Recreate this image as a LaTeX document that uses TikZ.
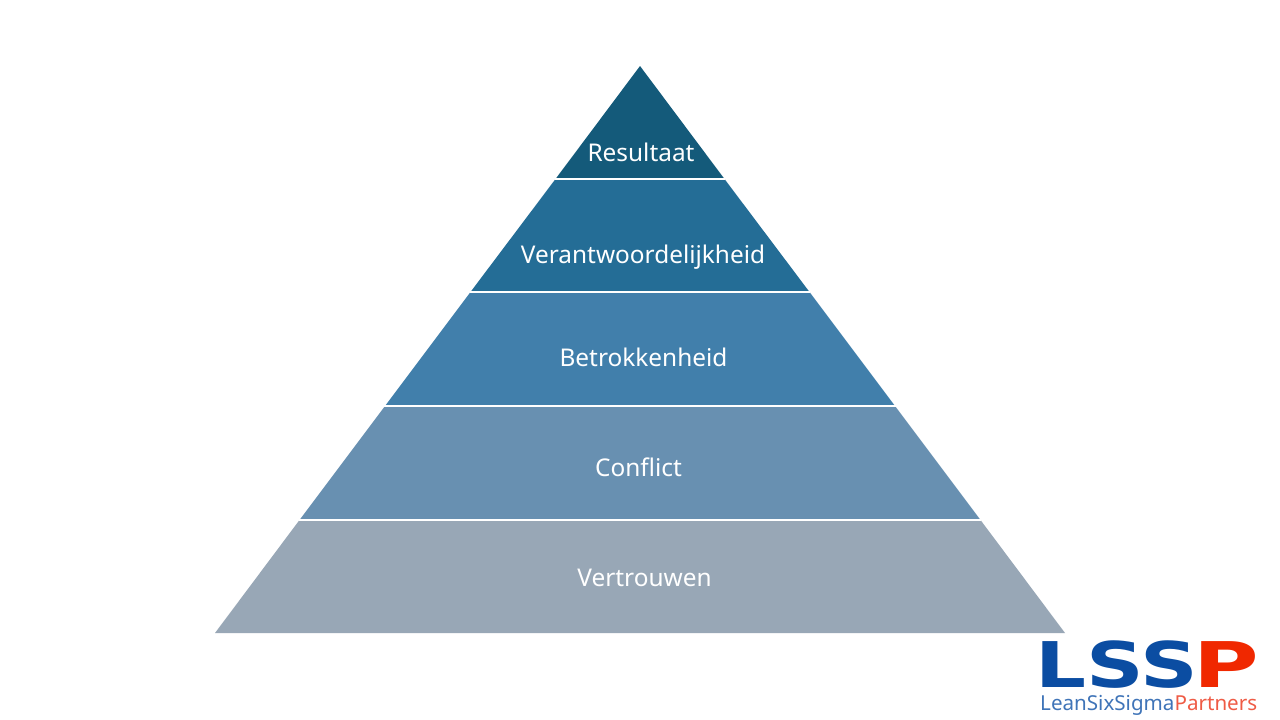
\documentclass[tikz,border=0pt]{standalone}
\usepackage{fontspec}
\setmainfont{Noto Sans}
\newfontfamily\logofont{DejaVu Sans}
\definecolor{lone}{HTML}{145A7A}
\definecolor{ltwo}{HTML}{246D96}
\definecolor{lthree}{HTML}{417FAB}
\definecolor{lfour}{HTML}{6890B1}
\definecolor{lfive}{HTML}{98A7B6}
\definecolor{lssblue}{HTML}{0B4DA2}
\definecolor{lssred}{HTML}{F02800}
\definecolor{lsslight}{HTML}{3F74B8}
\definecolor{lsspink}{HTML}{EF5B45}
\tikzset{
 band/.style={white,inner sep=0pt,anchor=base,font=\fontsize{24.4}{28}\selectfont},
 sep/.style={draw=white,line width=1.6pt},
 logo/.style={inner sep=0pt,anchor=base west,transform shape,font=\logofont\bfseries\fontsize{63}{63}\selectfont},
}
\begin{document}
\begin{tikzpicture}[x=1pt,y=-1pt]
\useasboundingbox (0,0) rectangle (1280,720);
\fill[white] (0,0) rectangle (1280,720);
\fill[lone] (640,66) -- (724.5,179) -- (555.5,179) -- cycle;
\fill[ltwo] (555.5,179) -- (724.5,179) -- (809.5,292) -- (470.5,292) -- cycle;
\fill[lthree] (470.5,292) -- (809.5,292) -- (895,406) -- (385,406) -- cycle;
\fill[lfour] (385,406) -- (895,406) -- (980.5,520) -- (299.5,520) -- cycle;
\fill[lfive] (299.5,520) -- (980.5,520) -- (1065,633) -- (215,633) -- cycle;
\draw[sep] (555,179) -- (725,179);
\draw[sep] (470,292) -- (810,292);
\draw[sep] (384,406) -- (896,406);
\draw[sep] (299,520) -- (981,520);
\node[band] (resultaat) at (641,161) {Resultaat};
\node[band] (verantw) at (643,263) {Verantwoordelijkheid};
\node[band] (betrokken) at (643.5,366) {Betrokkenheid};
\node[band] (conflict) at (638.5,476) {Conflict};
\node[band] (vertrouwen) at (644.5,586) {Vertrouwen};
\begin{scope}[xscale=1.27]
\node[logo,text=lssblue] (lss) at (815,687) {LSS};
\end{scope}
\begin{scope}[xscale=1.42]
\node[logo,text=lssred] (p) at (840,687) {P};
\end{scope}
\node[inner sep=0pt,anchor=base west,font=\fontsize{20.6}{24}\selectfont] (tag) at (1040,710) {\textcolor{lsslight}{LeanSixSigma}\textcolor{lsspink}{Partners}};
\end{tikzpicture}
\end{document}
